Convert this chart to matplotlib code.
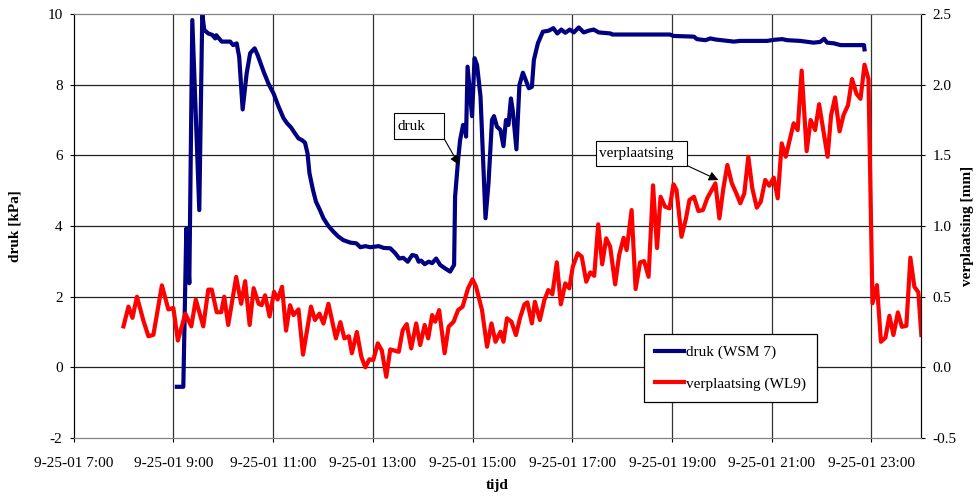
import matplotlib.pyplot as plt
from matplotlib.patches import Rectangle
from matplotlib.ticker import FixedLocator, FuncFormatter

plt.rcParams['font.family'] = ['Liberation Serif', 'DejaVu Serif']
plt.rcParams['font.size'] = 11
plt.rcParams['axes.unicode_minus'] = False

# druk (WSM 7): time in decimal hours on 9-25-01, pressure in kPa
druk_t = [9.07, 9.20, 9.26, 9.32, 9.38, 9.52, 9.58, 9.62, 9.70, 9.78, 9.84, 9.86, 9.97,
          10.14, 10.20, 10.27, 10.32, 10.39, 10.47, 10.54, 10.63, 10.69, 10.81, 10.91,
          11.01, 11.11, 11.21, 11.28, 11.36, 11.44, 11.51, 11.58, 11.64, 11.69, 11.73,
          11.80, 11.86, 11.94, 12.01, 12.11, 12.21, 12.31, 12.41, 12.55, 12.67, 12.75,
          12.85, 12.95, 13.12, 13.22, 13.35, 13.45, 13.53, 13.61, 13.70, 13.79, 13.87,
          13.92, 13.97, 14.04, 14.12, 14.19, 14.27, 14.35, 14.45, 14.55, 14.63, 14.65,
          14.71, 14.75, 14.81, 14.85, 14.87, 14.90, 14.99, 15.04, 15.09, 15.16, 15.26,
          15.32, 15.39, 15.43, 15.49, 15.56, 15.62, 15.67, 15.72, 15.77, 15.81, 15.88,
          15.94, 16.01, 16.13, 16.19, 16.23, 16.31, 16.41, 16.53, 16.62, 16.70, 16.78,
          16.86, 16.95, 17.03, 17.13, 17.23, 17.33, 17.43, 17.53, 17.77, 17.80, 18.96,
          19.03, 19.44, 19.50, 19.67, 19.77, 19.87, 20.24, 20.37, 20.91, 21.04, 21.21,
          21.31, 21.57, 21.84, 21.97, 22.05, 22.11, 22.25, 22.38, 22.85, 22.86]
druk_kpa = [-0.55, -0.55, 3.93, 2.38, 9.83, 4.45, 10.0, 9.55, 9.45, 9.41, 9.31, 9.40, 9.22,
            9.22, 9.12, 9.17, 8.79, 7.30, 8.32, 8.89, 9.03, 8.84, 8.37, 8.02,
            7.75, 7.38, 7.05, 6.91, 6.79, 6.62, 6.48, 6.43, 6.36, 6.06, 5.49,
            5.02, 4.69, 4.45, 4.22, 4.00, 3.84, 3.70, 3.60, 3.53, 3.51, 3.40,
            3.43, 3.40, 3.43, 3.38, 3.37, 3.23, 3.08, 3.10, 2.99, 3.18, 3.15,
            2.99, 3.02, 2.92, 2.99, 2.95, 3.08, 2.90, 2.80, 2.71, 2.90, 4.83,
            5.87, 6.43, 6.86, 6.86, 6.53, 8.51, 7.11, 8.75, 8.56, 7.66, 4.22,
            5.21, 7.00, 7.11, 6.81, 6.72, 6.26, 7.00, 6.86, 7.61, 7.23, 6.17,
            7.99, 8.34, 7.90, 7.94, 8.70, 9.17, 9.50, 9.53, 9.60, 9.45, 9.56,
            9.47, 9.56, 9.48, 9.62, 9.48, 9.53, 9.56, 9.48, 9.45, 9.42, 9.42,
            9.38, 9.36, 9.29, 9.26, 9.31, 9.28, 9.22, 9.24, 9.24, 9.27, 9.29,
            9.26, 9.24, 9.19, 9.21, 9.30, 9.19, 9.17, 9.12, 9.12, 9.00]

# verplaatsing (WL9): time in decimal hours, displacement in mm
verpl_t = [8.00, 8.10, 8.18, 8.27, 8.40, 8.50, 8.60, 8.77, 8.90, 9.00, 9.09, 9.24, 9.36,
           9.45, 9.60, 9.70, 9.77, 9.87, 9.96, 10.02, 10.10, 10.26, 10.36, 10.44, 10.53,
           10.61, 10.71, 10.77, 10.84, 10.93, 11.02, 11.09, 11.18, 11.26, 11.34, 11.41,
           11.51, 11.60, 11.76, 11.84, 11.93, 12.01, 12.11, 12.26, 12.35, 12.43, 12.52,
           12.58, 12.68, 12.77, 12.85, 12.93, 13.01, 13.10, 13.18, 13.27, 13.35, 13.52,
           13.60, 13.68, 13.77, 13.87, 13.95, 14.04, 14.11, 14.19, 14.25, 14.33, 14.44,
           14.52, 14.62, 14.71, 14.80, 14.91, 15.00, 15.07, 15.19, 15.29, 15.38, 15.46,
           15.56, 15.62, 15.69, 15.78, 15.87, 15.95, 16.04, 16.10, 16.19, 16.25, 16.35,
           16.44, 16.52, 16.60, 16.69, 16.77, 16.86, 16.94, 17.01, 17.11, 17.19, 17.28,
           17.36, 17.44, 17.52, 17.60, 17.68, 17.76, 17.86, 17.94, 18.03, 18.09, 18.19,
           18.27, 18.36, 18.44, 18.53, 18.62, 18.70, 18.77, 18.86, 18.95, 19.03, 19.09,
           19.19, 19.28, 19.35, 19.44, 19.53, 19.62, 19.71, 19.79, 19.87, 19.95, 20.03,
           20.11, 20.20, 20.29, 20.37, 20.45, 20.53, 20.61, 20.70, 20.78, 20.87, 20.95,
           21.04, 21.12, 21.20, 21.28, 21.44, 21.52, 21.60, 21.70, 21.78, 21.87, 21.95,
           22.12, 22.19, 22.27, 22.36, 22.44, 22.53, 22.61, 22.70, 22.78, 22.86, 22.94,
           23.02, 23.11, 23.19, 23.28, 23.36, 23.44, 23.53, 23.61, 23.70, 23.78, 23.86,
           23.94, 24.00]
verpl_mm = [0.29, 0.43, 0.35, 0.50, 0.33, 0.22, 0.23, 0.58, 0.41, 0.42, 0.19, 0.38, 0.29,
            0.48, 0.29, 0.55, 0.55, 0.39, 0.39, 0.50, 0.30, 0.64, 0.45, 0.61, 0.30,
            0.56, 0.45, 0.44, 0.51, 0.36, 0.535, 0.48, 0.57, 0.26, 0.44, 0.37,
            0.41, 0.09, 0.43, 0.335, 0.38, 0.31, 0.45, 0.205, 0.32, 0.205, 0.22,
            0.10, 0.25, 0.075, 0.0, 0.057, 0.052, 0.17, 0.12, -0.067, 0.127, 0.11,
            0.264, 0.306, 0.134, 0.311, 0.158, 0.30, 0.205, 0.37, 0.323, 0.405, 0.10,
            0.288, 0.323, 0.405, 0.429, 0.559, 0.623, 0.571, 0.405, 0.146, 0.311, 0.181,
            0.252, 0.181, 0.347, 0.323, 0.228, 0.347, 0.446, 0.46, 0.311, 0.464, 0.335,
            0.476, 0.547, 0.517, 0.743, 0.446, 0.594, 0.559, 0.712, 0.807, 0.783, 0.606,
            0.672, 0.648, 1.012, 0.729, 0.913, 0.854, 0.587, 0.795, 0.917, 0.83, 1.113,
            0.554, 0.743, 0.752, 0.641, 1.288, 0.844, 1.207, 1.137, 1.125, 1.295, 1.255,
            0.924, 1.054, 1.184, 1.207, 1.106, 1.113, 1.20, 1.25, 1.302, 1.054, 1.267,
            1.432, 1.302, 1.231, 1.161, 1.231, 1.49, 1.267, 1.13, 1.172, 1.326, 1.285,
            1.342, 1.196, 1.585, 1.49, 1.727, 1.679, 2.10, 1.53, 1.75, 1.679, 1.862,
            1.49, 1.783, 1.91, 1.67, 1.786, 1.855, 2.04, 1.935, 1.90, 2.142, 2.04,
            0.453, 0.582, 0.181, 0.21, 0.365, 0.229, 0.389, 0.287, 0.294, 0.776, 0.571,
            0.531, 0.229]

hour_ticks = [7, 9, 11, 13, 15, 17, 19, 21, 23]
left_ticks = [-2, 0, 2, 4, 6, 8, 10]
right_ticks = [-0.5, 0.0, 0.5, 1.0, 1.5, 2.0, 2.5]

fig = plt.figure(figsize=(9.79, 4.96), dpi=100)
ax = fig.add_axes([0.0752, 0.1169, 0.8659, 0.8548])
ax2 = ax.twinx()

ax.set_xlim(7, 24)
ax.set_ylim(-2, 10)
ax2.set_ylim(-0.5, 2.5)

# grid
for h in hour_ticks[1:]:
    ax.axvline(h, color='#333333', lw=0.9, zorder=0)
for v in left_ticks[1:-1]:
    ax.axhline(v, color='#222222', lw=0.9, zorder=0)

l1, = ax.plot(druk_t, druk_kpa, color='#000080', lw=3, solid_joinstyle='round',
              label='druk (WSM 7)')
l2, = ax2.plot(verpl_t, verpl_mm, color='#ff0000', lw=3, solid_joinstyle='round',
               label='verplaatsing (WL9)')

ax.xaxis.set_major_locator(FixedLocator(hour_ticks))
ax.xaxis.set_major_formatter(FuncFormatter(lambda h, p: f"9-25-01 {int(h)}:00"))
ax.yaxis.set_major_locator(FixedLocator(left_ticks))
ax2.yaxis.set_major_locator(FixedLocator(right_ticks))
ax2.yaxis.set_major_formatter(FuncFormatter(lambda v, p: f"{v:.1f}"))

ax.tick_params(axis='x', length=3, pad=10.5)
ax.tick_params(axis='y', length=3, pad=5)
ax2.tick_params(axis='y', length=3, pad=5)

for a in (ax, ax2):
    a.spines['top'].set_color('#808080')
    a.spines['bottom'].set_color('#808080')
    a.spines['left'].set_color('black')
    a.spines['right'].set_color('black')

fig.text(15 / 979, 1 - 226 / 496, 'druk [kPa]', rotation=90, fontweight='bold',
         ha='center', va='center')
fig.text(968 / 979, 1 - 226 / 496, 'verplaatsing [mm]', rotation=90, fontweight='bold',
         ha='center', va='center')
fig.text(497 / 979, 1 - 486 / 496, 'tijd', fontweight='bold', ha='center', va='center')

# callouts
ax2.add_patch(Rectangle((0.3783, 0.7052), 0.059, 0.0613, transform=ax.transAxes,
                        fc='white', ec='black', lw=0.8, zorder=5))
ax2.text(0.3826, 0.7358, 'druk', transform=ax.transAxes, ha='left', va='center', zorder=6)
ax2.annotate('', xy=(14.73, 5.73), xycoords=ax.transData,
             xytext=(0.4373, 0.7052), textcoords=ax.transAxes,
             arrowprops=dict(arrowstyle='-|>', color='black', lw=0.8,
                             shrinkA=0, shrinkB=0, mutation_scale=14), zorder=6)

ax2.add_patch(Rectangle((0.6166, 0.6422), 0.1074, 0.0583, transform=ax.transAxes,
                        fc='white', ec='black', lw=0.8, zorder=5))
ax2.text(0.6198, 0.6722, 'verplaatsing', transform=ax.transAxes, ha='left', va='center',
         zorder=6)
ax2.annotate('', xy=(19.93, 1.325), xycoords=ax2.transData,
             xytext=(0.7240, 0.6422), textcoords=ax.transAxes,
             arrowprops=dict(arrowstyle='-|>', color='black', lw=0.8,
                             shrinkA=0, shrinkB=0, mutation_scale=14), zorder=6)

leg = ax2.legend([l1, l2], [l1.get_label(), l2.get_label()], loc='upper left',
                 bbox_to_anchor=(644 / 979, 1 - 334 / 496), bbox_transform=fig.transFigure,
                 borderaxespad=0, borderpad=0.75, handlelength=1.85, handletextpad=0.15,
                 labelspacing=1.15, fancybox=False, framealpha=1, edgecolor='black')
leg.get_frame().set_linewidth(0.9)
leg.set_zorder(10)

fig.savefig('out.png', dpi=100)
